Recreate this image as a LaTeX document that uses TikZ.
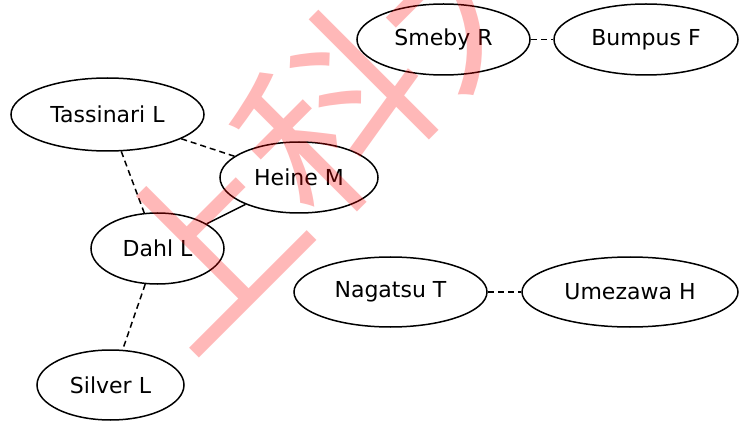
\documentclass[tikz,border=0pt]{standalone}
\usepackage{fontspec}
\setmainfont{DejaVu Sans}
\newfontfamily\cjkwm{Noto Sans CJK SC}
\usetikzlibrary{shapes.geometric}
\begin{document}
\begin{tikzpicture}[x=1pt,y=-1pt,
  person/.style={draw, ellipse, line width=1.5pt, inner sep=0pt, font=\fontsize{22}{26}\selectfont},
  link/.style={line width=1.5pt},
  dlink/.style={link, dash pattern=on 6pt off 4pt},
  watermark/.style={rotate=45, inner sep=0pt, text=red, opacity=0.28, font=\cjkwm\fontsize{185}{185}\selectfont}]
\useasboundingbox (0,0) rectangle (739,422);
\clip (0,0) rectangle (739,422);
\fill[white] (0,0) rectangle (739,422);
\node[person, minimum width=173pt, minimum height=71pt] (smeby) at (443.5,39.5) {Smeby R};
\node[person, minimum width=184pt, minimum height=71pt] (bumpus) at (646,39.5) {Bumpus F};
\node[person, minimum width=193pt, minimum height=73pt] (tass) at (107.5,114.5) {Tassinari L};
\node[person, minimum width=158pt, minimum height=71pt] (heine) at (299,177.5) {Heine M};
\node[person, minimum width=133pt, minimum height=71pt] (dahl) at (157.5,248.5) {Dahl L};
\node[person, minimum width=147pt, minimum height=70pt] (silver) at (110.5,385) {Silver L};
\node[person, minimum width=193pt, minimum height=70pt] (nagatsu) at (390.5,292) {Nagatsu T};
\node[person, minimum width=216pt, minimum height=70pt] (umezawa) at (630,292) {Umezawa H};
\draw[dlink] (tass) -- (heine);
\draw[dlink] (tass) -- (dahl);
\draw[link] (heine) -- (dahl);
\draw[dlink] (dahl) -- (silver);
\draw[dlink] (smeby) -- (bumpus);
\draw[dlink] (nagatsu) -- (umezawa);
\node[watermark] (wm) at (335,114) {上科大};
\end{tikzpicture}
\end{document}
